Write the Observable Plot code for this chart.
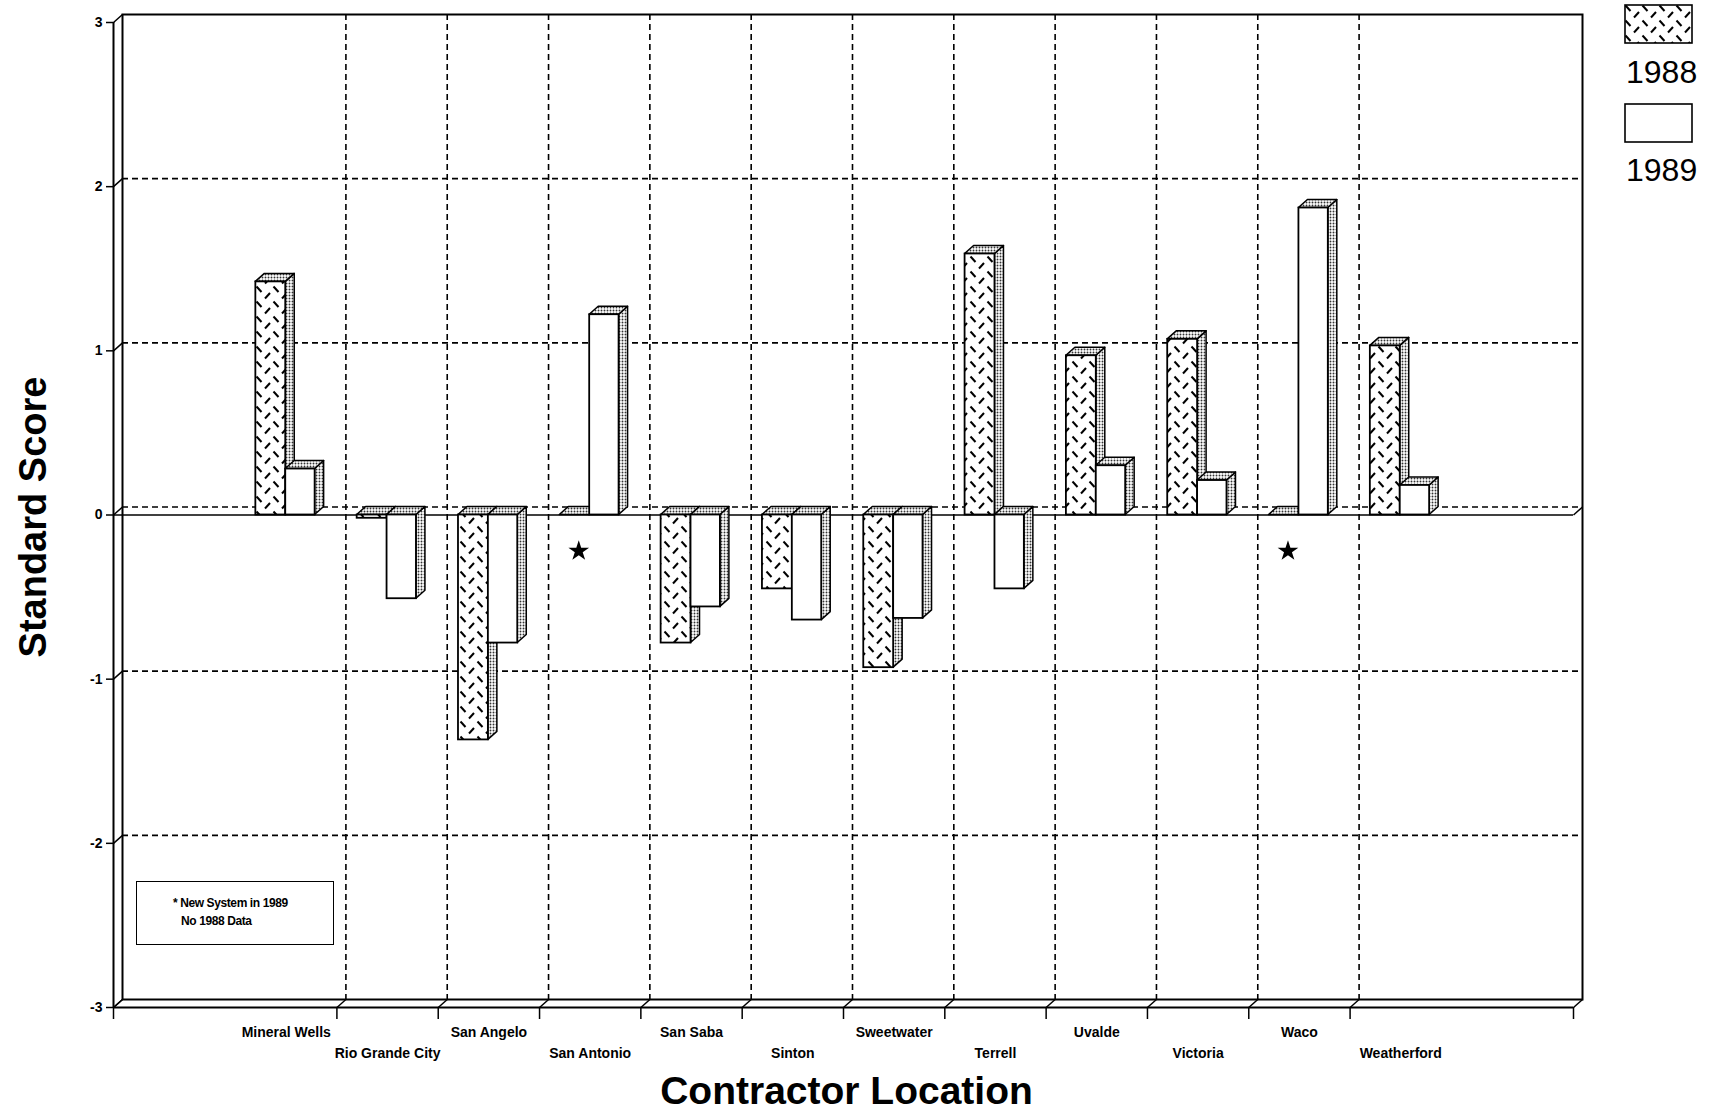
<!DOCTYPE html>
<html><head><meta charset="utf-8">
<script src="https://cdn.jsdelivr.net/npm/d3@7"></script>
<script src="https://cdn.jsdelivr.net/npm/@observablehq/plot@0.6"></script>
<style>
body{margin:0;background:#fff;font-family:"Liberation Sans",Arial,Helvetica,sans-serif;}
#wrap{position:relative;width:1716px;height:1112px;overflow:hidden;}
#defs{position:absolute;left:0;top:0;width:0;height:0;}
.lg{position:absolute;font-size:32px;line-height:1;color:#000;}
#note{position:absolute;left:136px;top:881px;width:198px;height:64px;border:1.5px solid #000;box-sizing:border-box;}
#note div{position:absolute;font-size:12px;font-weight:bold;letter-spacing:-0.4px;white-space:nowrap;}
</style></head><body>
<div id="wrap"></div>
<script>
// ---- data ----
const locations = ["Mineral Wells","Rio Grande City","San Angelo","San Antonio","San Saba","Sinton","Sweetwater","Terrell","Uvalde","Victoria","Waco","Weatherford"];
const score1988 = [1.42,-0.02,-1.37,0,-0.78,-0.45,-0.93,1.59,0.97,1.07,0,1.03];
const score1989 = [0.28,-0.51,-0.78,1.22,-0.56,-0.64,-0.63,-0.45,0.30,0.21,1.87,0.18];
const newSystem = ["San Antonio","Waco"];
const yTicks = [-3,-2,-1,0,1,2,3];
const years = ["1988","1989"];
const noteLines = ["* New System in 1989","No 1988 Data"];
const yTitle = "Standard Score";
const xTitle = "Contractor Location";

// ---- layout ----
const W = 1716, H = 1112, mL = 113, mR = 143, mT = 22, mB = 105;
const xDomain = [-1.205, locations.length + 1.205];
const pxX = (W - mL - mR) / (xDomain[1] - xDomain[0]);
const pxY = (H - mT - mB) / (yTicks[yTicks.length-1] - yTicks[0]);
const DX = 9, DY = 8;             // 3-D depth in pixels
const dxu = DX / pxX, dyu = DY / pxY;
const slot = {"1988": [0.2, 0.495], "1989": [0.495, 0.785]};

const wrap = document.getElementById("wrap");

// shared patterns
const defsSvg = `<svg id="defs" xmlns="http://www.w3.org/2000/svg"><defs>
<pattern id="hatch" patternUnits="userSpaceOnUse" width="17" height="15">
 <rect width="17" height="15" fill="#fff"/>
 <line x1="1.5" y1="1.5" x2="6.5" y2="7" stroke="#000" stroke-width="2"/>
 <line x1="10" y1="13.5" x2="15" y2="8" stroke="#000" stroke-width="2"/>
</pattern>
<pattern id="stip" patternUnits="userSpaceOnUse" width="3" height="3">
 <rect width="3" height="3" fill="#fff"/>
 <circle cx="1.5" cy="1.5" r="0.95" fill="#333"/>
</pattern></defs></svg>`;
wrap.insertAdjacentHTML("beforeend", defsSvg);

// bar geometry (derived from data)
const bars = [];
years.forEach(yr => locations.forEach((loc, i) => {
  const v = (yr === "1988" ? score1988 : score1989)[i];
  const [a, b] = slot[yr];
  bars.push({id: yr + loc, year: yr, loc, x1: i + a, x2: i + b, base: 0, v, top: Math.max(v, 0)});
}));
const sides = bars.flatMap(d => [
  {id: d.id, year: d.year, x: d.x2, y1: 0, y2: d.v},
  {id: d.id, year: d.year, x: d.x2 + dxu, y1: dyu, y2: d.v + dyu}
]);
const tops = bars.flatMap(d => [
  {id: d.id, year: d.year, y: d.top, x1: d.x1, x2: d.x2},
  {id: d.id, year: d.year, y: d.top + dyu, x1: d.x1 + dxu, x2: d.x2 + dxu}
]);

const barMarks = years.flatMap(yr => [
  Plot.area(sides.filter(d => d.year === yr), {x1: "x", y1: "y1", y2: "y2", z: "id", fill: "url(#stip)", stroke: "black", strokeWidth: 1.5}),
  Plot.area(tops.filter(d => d.year === yr), {y1: "y", x1: "x1", x2: "x2", z: "id", fill: "url(#stip)", stroke: "black", strokeWidth: 1.5}),
  Plot.rect(bars.filter(d => d.year === yr), {x1: "x1", x2: "x2", y1: "base", y2: "v", fill: yr === "1988" ? "url(#hatch)" : "white", stroke: "black", strokeWidth: 1.8})
]);

const bounds = d3.range(1, locations.length);
const xTickVals = [xDomain[0], ...bounds, xDomain[1]];
const links = [
  ...yTicks.map(t => ({x1: xDomain[0], y1: t, x2: xDomain[0] + dxu, y2: t + dyu})),
  ...xTickVals.map(b => ({x1: b, y1: yTicks[0], x2: b + dxu, y2: yTicks[0] + dyu})),
  {x1: xDomain[1], y1: 0, x2: xDomain[1] + dxu, y2: dyu}
];

const dash = "6,4";
const chart = Plot.plot({
  width: W, height: H,
  marginLeft: mL, marginRight: mR, marginTop: mT, marginBottom: mB,
  style: {fontFamily: "Liberation Sans, Arial, sans-serif", background: "white", overflow: "visible"},
  x: {type: "linear", domain: xDomain},
  y: {domain: [yTicks[0], yTicks[yTicks.length-1]]},
  marks: [
    Plot.frame({stroke: "black", strokeWidth: 2, dx: DX, dy: -DY}),
    Plot.ruleX(bounds, {stroke: "black", strokeWidth: 1.6, strokeDasharray: dash, dx: DX, dy: -DY}),
    Plot.ruleY(yTicks.slice(1, -1), {stroke: "black", strokeWidth: 1.6, strokeDasharray: dash, dx: DX, dy: -DY}),
    Plot.ruleX([xDomain[0]], {stroke: "black", strokeWidth: 2}),
    Plot.ruleY([yTicks[0]], {stroke: "black", strokeWidth: 2}),
    Plot.ruleY([0], {stroke: "black", strokeWidth: 1.6}),
    Plot.link(links, {x1: "x1", y1: "y1", x2: "x2", y2: "y2", stroke: "black", strokeWidth: 1.5}),
    ...barMarks,
    Plot.dot(newSystem, {x: d => locations.indexOf(d) + (slot["1988"][0] + slot["1988"][1]) / 2, y: () => 0, dx: 4, dy: 36, symbol: "star", r: 6.5, fill: "black", stroke: "none"}),
    Plot.axisY({ticks: yTicks, tickSize: 7, tickPadding: 4, fontSize: 14, fontWeight: "bold", tickFormat: d => String(d), label: null, strokeWidth: 1.5}),
    Plot.axisX({ticks: xTickVals, tickSize: 12, tickFormat: () => "", label: null, strokeWidth: 1.5}),
    Plot.text(locations, {filter: (d, i) => i % 2 === 0, x: (d, i) => i + 0.5, frameAnchor: "bottom", dy: 29, fontSize: 14, fontWeight: "bold"}),
    Plot.text(locations, {filter: (d, i) => i % 2 === 1, x: (d, i) => i + 0.5, frameAnchor: "bottom", dy: 50, fontSize: 14, fontWeight: "bold"}),
    Plot.text([yTitle], {frameAnchor: "left", textAnchor: "middle", dx: -80, dy: 2, rotate: -90, fontSize: 38, fontWeight: "bold"}),
    Plot.text([xTitle], {frameAnchor: "bottom", dy: 96, dx: 3, fontSize: 39, fontWeight: "bold"})
  ]
});
chart.style.position = "absolute";
chart.style.left = "0px";
chart.style.top = "0px";
wrap.appendChild(chart);

// legend
const legendSvg = `<svg style="position:absolute;left:1624px;top:4px" width="72" height="142" xmlns="http://www.w3.org/2000/svg">
<rect x="1" y="1" width="67" height="38" fill="url(#hatch)" stroke="#000" stroke-width="1.6"/>
<rect x="1" y="100" width="67" height="38" fill="#fff" stroke="#000" stroke-width="1.6"/></svg>`;
wrap.insertAdjacentHTML("beforeend", legendSvg);
const lgTops = [56, 154];
years.forEach((yr, k) => {
  const el = document.createElement("div");
  el.className = "lg";
  el.style.left = "1626px";
  el.style.top = lgTops[k] + "px";
  el.textContent = yr;
  wrap.appendChild(el);
});

// footnote box
const note = document.createElement("div");
note.id = "note";
noteLines.forEach((t, k) => {
  const d = document.createElement("div");
  d.textContent = t;
  d.style.left = (k === 0 ? 36 : 44) + "px";
  d.style.top = (k === 0 ? 14 : 32) + "px";
  note.appendChild(d);
});
wrap.appendChild(note);
</script>
</body></html>
